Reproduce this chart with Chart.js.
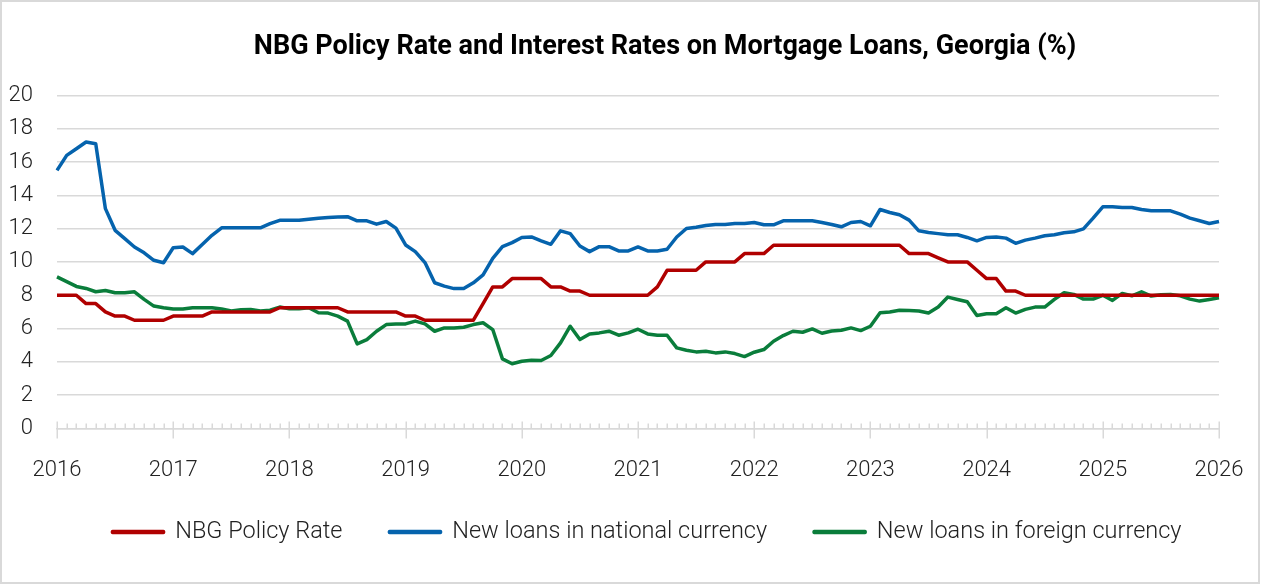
<!DOCTYPE html>
<html>
<head>
<meta charset="utf-8">
<script src="https://cdn.jsdelivr.net/npm/chart.js@4.4.1/dist/chart.umd.min.js"></script>
<style>
html,body{margin:0;padding:0;background:#fff;}
#wrap{position:relative;width:1265px;height:585px;}
</style>
</head>
<body>
<div id="wrap"><canvas id="c" width="1265" height="585"></canvas></div>
<script>
const chartTitle = 'NBG Policy Rate and Interest Rates on Mortgage Loans, Georgia (%)';
const yearLabels = ['2016','2017','2018','2019','2020','2021','2022','2023','2024','2025','2026'];
const seriesNames = ['NBG Policy Rate', 'New loans in national currency', 'New loans in foreign currency'];
const seriesColors = ['#B00000', '#0563AD', '#0A7D3B'];

// monthly values, Jan 2016 ... Jan 2026
const policyRate = [
  8,8,8,7.5,7.5,7,6.75,6.75,6.5,6.5,6.5,6.5,
  6.75,6.75,6.75,6.75,7,7,7,7,7,7,7,7.25,
  7.25,7.25,7.25,7.25,7.25,7.25,7,7,7,7,7,7,
  6.75,6.75,6.5,6.5,6.5,6.5,6.5,6.5,7.5,8.5,8.5,9,
  9,9,9,8.5,8.5,8.25,8.25,8,8,8,8,8,
  8,8,8.5,9.5,9.5,9.5,9.5,10,10,10,10,10.5,
  10.5,10.5,11,11,11,11,11,11,11,11,11,11,
  11,11,11,11,10.5,10.5,10.5,10.25,10,10,10,9.5,
  9,9,8.25,8.25,8,8,8,8,8,8,8,8,
  8,8,8,8,8,8,8,8,8,8,8,8,
  8
];
const nationalCurrency = [
  15.5,16.4,16.8,17.2,17.1,13.2,11.9,11.4,10.9,10.55,10.1,9.95,
  10.85,10.9,10.5,11.05,11.6,12.05,12.05,12.05,12.05,12.05,12.3,12.5,
  12.5,12.5,12.57,12.63,12.67,12.7,12.72,12.47,12.47,12.27,12.43,12.03,
  11.02,10.62,9.96,8.75,8.55,8.4,8.4,8.75,9.22,10.22,10.92,11.16,
  11.47,11.5,11.27,11.06,11.87,11.7,10.96,10.62,10.92,10.92,10.66,10.66,
  10.9,10.66,10.66,10.76,11.5,12.01,12.08,12.19,12.25,12.25,12.31,12.31,
  12.37,12.23,12.23,12.47,12.47,12.47,12.47,12.37,12.25,12.11,12.37,12.43,
  12.17,13.15,12.97,12.83,12.51,11.87,11.77,11.7,11.63,11.63,11.47,11.27,
  11.47,11.5,11.43,11.12,11.31,11.43,11.57,11.63,11.75,11.81,11.99,12.63,
  13.31,13.31,13.27,13.27,13.15,13.07,13.07,13.07,12.87,12.63,12.47,12.31,
  12.43
];
const foreignCurrency = [
  9.1,8.82,8.53,8.41,8.21,8.29,8.15,8.15,8.21,7.75,7.35,7.25,
  7.17,7.17,7.25,7.25,7.25,7.17,7.05,7.13,7.15,7.05,7.1,7.29,
  7.19,7.19,7.25,6.95,6.93,6.75,6.45,5.08,5.34,5.84,6.24,6.28,
  6.28,6.45,6.28,5.84,6.04,6.04,6.08,6.24,6.35,5.94,4.18,3.89,
  4.04,4.1,4.08,4.38,5.14,6.14,5.34,5.68,5.74,5.84,5.6,5.74,
  5.96,5.68,5.6,5.6,4.84,4.7,4.6,4.64,4.54,4.6,4.5,4.32,
  4.58,4.74,5.24,5.58,5.84,5.78,5.98,5.72,5.85,5.9,6.04,5.88,
  6.14,6.95,7.0,7.1,7.08,7.05,6.93,7.29,7.89,7.75,7.61,6.79,
  6.89,6.89,7.25,6.93,7.15,7.29,7.29,7.75,8.15,8.05,7.77,7.77,
  8.0,7.69,8.11,7.97,8.21,7.95,8.03,8.05,7.97,7.77,7.65,7.75,
  7.85
];

// category labels: one per month
const monthLabels = [];
yearLabels.forEach(function (y) {
  for (let m = 1; m <= 12; m++) {
    if (monthLabels.length < policyRate.length) monthLabels.push(y + '-' + String(m).padStart(2, '0'));
  }
});

const FONT = "Roboto, 'Liberation Sans', sans-serif";
const GRID = '#d9d9d9';

const framePlugin = {
  id: 'framePlugin',
  beforeDraw(chart) {
    const c = chart.ctx;
    c.save();
    c.fillStyle = '#ffffff';
    c.fillRect(0, 0, chart.width, chart.height);
    c.strokeStyle = GRID;
    c.lineWidth = 2;
    c.strokeRect(1, 1, 1258, 582);
    c.restore();
  },
  afterLayout(chart) {
    const t = chart.titleBlock;
    if (t) { const d = 665 - (t.left + t.right) / 2; t.left += d; t.right += d; t.top += 1; t.bottom += 1; }
    const l = chart.legend;
    if (l) {
      const d = 647 - (l.left + l.right) / 2; l.left += d; l.right += d;
      const lo = l.options.labels;
      const dy = 532 - (l.top + lo.padding + lo.font.size / 2);
      l.top += dy; l.bottom += dy;
    }
  },
  beforeDatasetsDraw(chart) {
    const xs = chart.scales.x;
    const c = chart.ctx;
    const y0 = xs.top;
    c.save();
    c.strokeStyle = GRID;
    c.lineWidth = 1.5;
    for (let i = 0; i < monthLabels.length; i++) {
      const x = Math.round(xs.getPixelForValue(i)) + 0.25;
      c.beginPath();
      if (i % 12 === 0) { c.moveTo(x, y0 - 7); c.lineTo(x, y0 + 10); }
      else { c.moveTo(x, y0 - 5); c.lineTo(x, y0); }
      c.stroke();
    }
    c.restore();
  }
};

const seriesData = [policyRate, nationalCurrency, foreignCurrency];

new Chart(document.getElementById('c'), {
  type: 'line',
  data: {
    labels: monthLabels,
    datasets: seriesData.map(function (d, k) {
      return {
        label: seriesNames[k],
        data: d,
        borderColor: seriesColors[k],
        backgroundColor: seriesColors[k],
        borderWidth: 3.5,
        pointRadius: 0,
        tension: 0,
        borderJoinStyle: 'round',
        fill: false
      };
    })
  },
  options: {
    responsive: false,
    devicePixelRatio: 1,
    animation: false,
    events: [],
    layout: { padding: { left: 0, right: 46, top: 0, bottom: 20 } },
    plugins: {
      tooltip: { enabled: false },
      title: {
        display: true,
        text: chartTitle,
        color: '#000',
        font: { family: FONT, size: 27, weight: 'bold' },
        padding: { top: 30, bottom: 33 }
      },
      legend: {
        position: 'bottom',
        labels: {
          color: '#222',
          font: { family: FONT, size: 23.5, weight: '300' },
          boxWidth: 51,
          boxHeight: 1,
          padding: 47
        }
      }
    },
    scales: {
      x: {
        type: 'category',
        offset: false,
        grid: { display: false, drawTicks: false },
        border: { display: true, color: GRID, width: 1.5 },
        ticks: {
          autoSkip: false,
          maxRotation: 0,
          minRotation: 0,
          padding: 29,
          color: '#222',
          font: { family: FONT, size: 22, weight: '300' },
          callback: function (v, idx) { return idx % 12 === 0 ? yearLabels[idx / 12] : ''; }
        },
        afterFit: function (s) { s.height = 56; s.paddingLeft = 0; s.paddingRight = 0; }
      },
      y: {
        min: 0,
        max: 20,
        border: { display: false },
        grid: { color: GRID, lineWidth: 1.5, drawTicks: false },
        ticks: {
          stepSize: 2,
          padding: 24,
          color: '#222',
          font: { family: FONT, size: 22, weight: '300' }
        },
        afterFit: function (s) { s.width = 57; }
      }
    }
  },
  plugins: [framePlugin]
});
</script>
</body>
</html>
